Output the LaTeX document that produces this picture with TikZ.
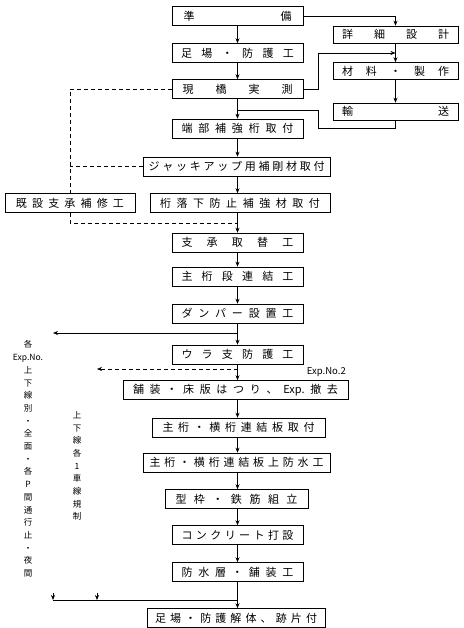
\documentclass[tikz,border=0pt]{standalone}
\usepackage{fontspec}
\newfontfamily\jp{Noto Sans CJK JP}
\usetikzlibrary{arrows.meta}
\newcommand\spr[2]{\makebox[#1][s]{#2}}
\begin{document}
\begin{tikzpicture}[x=1pt,y=-1pt,
  box/.style={draw, line width=0.6pt, minimum height=19pt, inner sep=0pt,
    font=\jp\fontsize{11}{13}\selectfont},
  rbox/.style={box, minimum width=125pt, minimum height=17pt},
  arr/.style={-{Stealth[length=5pt,width=4pt]}, line width=0.6pt},
  ln/.style={line width=0.6pt},
  dsh/.style={line width=0.5pt, dash pattern=on 4pt off 3pt},
  vcol/.style={align=center, inner sep=0pt, font=\jp\fontsize{8.5}{12.7}\selectfont},
  lbl/.style={inner sep=0pt, font=\jp\fontsize{9.5}{11}\selectfont}]
\useasboundingbox (0,0) rectangle (463,628);
\coordinate (axis) at (237.5,0);
% main column
\node[box, minimum width=131pt] (prep) at (237.5,16) {\spr{108pt}{準\hfill 備}};
\node[box, minimum width=131pt] (ashiba) at (237.5,53) {\spr{113pt}{足\hfill 場\hfill ・\hfill 防\hfill 護\hfill 工}};
\node[box, minimum width=131pt] (genkyo) at (237.5,89) {\spr{110pt}{現\hfill 橋\hfill 実\hfill 測}};
\node[box, minimum width=131pt] (tanbu) at (237.5,128.5) {\spr{112pt}{端\hfill 部\hfill 補\hfill 強\hfill 桁\hfill 取\hfill 付}};
\node[box, minimum width=187pt] (jack) at (236.5,166.5) {\spr{176pt}{ジ\hfill ャ\hfill ッ\hfill キ\hfill ア\hfill ッ\hfill プ\hfill 用\hfill 補\hfill 剛\hfill 材\hfill 取\hfill 付}};
\node[box, minimum width=130pt] (kisetsu) at (70,203) {\spr{108pt}{既\hfill 設\hfill 支\hfill 承\hfill 補\hfill 修\hfill 工}};
\node[box, minimum width=180pt] (keta) at (240,203) {\spr{160pt}{桁\hfill 落\hfill 下\hfill 防\hfill 止\hfill 補\hfill 強\hfill 材\hfill 取\hfill 付}};
\node[box, minimum width=131pt] (shisho) at (237.5,242.5) {\spr{112pt}{支\hfill 承\hfill 取\hfill 替\hfill 工}};
\node[box, minimum width=131pt] (renketsu) at (237.5,276.5) {\spr{112pt}{主\hfill 桁\hfill 段\hfill 連\hfill 結\hfill 工}};
\node[box, minimum width=131pt] (damper) at (237.5,313.5) {\spr{112pt}{ダ\hfill ン\hfill パ\hfill ー\hfill 設\hfill 置\hfill 工}};
\node[box, minimum width=131pt] (ura) at (237.5,354.5) {\spr{112pt}{ウ\hfill ラ\hfill 支\hfill 防\hfill 護\hfill 工}};
\node[box, minimum width=225pt] (hoso) at (235.5,390) {\spr{205pt}{舗\hfill 装\hfill ・\hfill 床\hfill 版\hfill は\hfill つ\hfill り\hfill 、\hfill Exp.\hfill 撤\hfill 去}};
\node[box, minimum width=173pt] (renban) at (238.5,427.5) {\spr{152pt}{主\hfill 桁\hfill ・\hfill 横\hfill 桁\hfill 連\hfill 結\hfill 板\hfill 取\hfill 付}};
\node[box, minimum width=187pt] (bosui) at (236.5,462.5) {\spr{174pt}{主\hfill 桁\hfill ・\hfill 横\hfill 桁\hfill 連\hfill 結\hfill 板\hfill 上\hfill 防\hfill 水\hfill 工}};
\node[box, minimum width=143pt] (kata) at (236.5,499) {\spr{122pt}{型\hfill 枠\hfill ・\hfill 鉄\hfill 筋\hfill 組\hfill 立}};
\node[box, minimum width=131pt] (conc) at (237.5,535) {\spr{112pt}{コ\hfill ン\hfill ク\hfill リ\hfill ー\hfill ト\hfill 打\hfill 設}};
\node[box, minimum width=131pt] (bosuiso) at (237.5,572) {\spr{112pt}{防\hfill 水\hfill 層\hfill ・\hfill 舗\hfill 装\hfill 工}};
\node[box, minimum width=178pt] (kaitai) at (236,618) {\spr{162pt}{足\hfill 場\hfill ・\hfill 防\hfill 護\hfill 解\hfill 体\hfill 、\hfill 跡\hfill 片\hfill 付}};
% right column
\node[rbox] (shosai) at (395.5,34.5) {\spr{107pt}{詳\hfill 細\hfill 設\hfill 計}};
\node[rbox] (zairyo) at (395.5,71) {\spr{107pt}{材\hfill 料\hfill ・\hfill 製\hfill 作}};
\node[rbox] (yuso) at (395.5,111.5) {\spr{107pt}{輸\hfill 送}};
% heavy bottom/right edges
\foreach \n in {prep,ashiba,genkyo,tanbu,jack,kisetsu,keta,shisho,renketsu,damper,ura,hoso,renban,bosui,kata,conc,bosuiso,kaitai,shosai,zairyo,yuso}
  \draw[line width=1.2pt] (\n.north east) -- (\n.south east) -- (\n.south west);
% main arrows
\foreach \a/\b in {prep/ashiba,ashiba/genkyo,genkyo/tanbu,tanbu/jack,jack/keta,keta/shisho,shisho/renketsu,renketsu/damper,damper/ura,ura/hoso,hoso/renban,renban/bosui,bosui/kata,kata/conc,conc/bosuiso,bosuiso/kaitai}
  \draw[arr] (\a.south -| axis) -- (\b.north -| axis);
% right side flows
\draw[arr] (prep.east) -| (shosai.north);
\draw[arr] (shosai) -- (zairyo);
\coordinate (j1) at (395.5,53);
\draw[arr] (genkyo.east) -- ++(15,0) |- (j1);
\draw[arr] (zairyo) -- (yuso);
\coordinate (j2) at (237.5,110);
\draw[ln] (yuso.south) -- ++(0,8) -- ++(-77.5,0) |- (j2);
% left dashed flows
\draw[dsh] (genkyo.west) -- (genkyo.west -| kisetsu.north) -- (kisetsu.north);
\draw[dsh] (jack.west) -- (jack.west -| kisetsu.north);
\coordinate (j3) at (237.5,223);
\draw[dsh] (kisetsu.south) |- (j3);
% left branches
\coordinate (bA) at (237.5,333);
\coordinate (tA) at (53,333);
\draw[arr] (bA) -- (tA);
\coordinate (bB) at (237.5,369);
\coordinate (tB) at (97,369);
\draw[arr, dsh] (bB) -- (tB);
\node[lbl, anchor=south east] (exp2) at (346,377) {Exp.No.2};
\coordinate (cA) at (53,600);
\coordinate (cM) at (237.5,600);
\draw[ln] (cA) -- (cM);
\coordinate (sA) at (53,593);
\coordinate (sB) at (97,593);
\coordinate (cB) at (97,600);
\draw[arr] (sA) -- (cA);
\draw[arr] (sB) -- (cB);
% vertical text columns
\node[vcol] (colA) at (28,459) {各\\Exp.No.\\上\\下\\線\\別\\・\\全\\面\\・\\各\\P\\間\\通\\行\\止\\・\\夜\\間};
\node[vcol] (colB) at (77,466) {上\\下\\線\\各\\1\\車\\線\\規\\制};
\end{tikzpicture}
\end{document}
